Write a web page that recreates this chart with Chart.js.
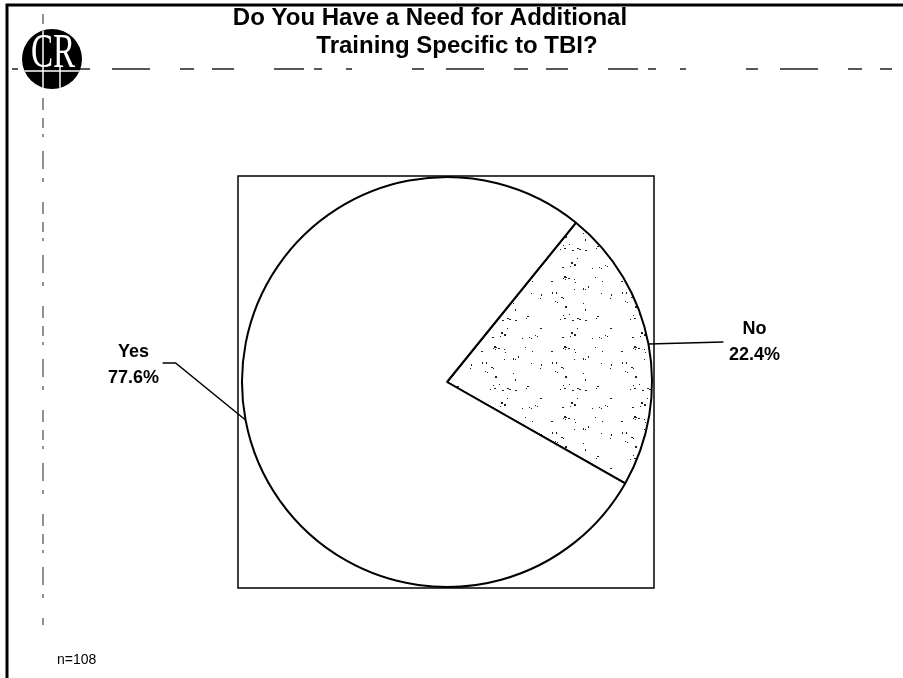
<!DOCTYPE html>
<html>
<head>
<meta charset="utf-8">
<script src="https://cdn.jsdelivr.net/npm/chart.js@4/dist/chart.umd.min.js"></script>
<style>
  html, body { margin: 0; padding: 0; background: #fff; }
  #pie { display: block; }
</style>
</head>
<body>
<canvas id="pie" width="903" height="678"></canvas>
<script>
const answers = ['No', 'Yes'];
const shares = [22.4, 77.6];
const titleLines = ['Do You Have a Need for Additional', 'Training Specific to TBI?'];
const sampleNote = 'n=108';

// leader line + label placement, relative to where the slice meets the rim
const labelLayout = {
  No: { path: [[75, -2]], textX: 106, nameY: -15, pctY: 11 },
  Yes: { path: [[-70, -57], [-83, -57]], textX: -112, nameY: -68, pctY: -42 },
};

// light speckled fill for the smaller slice
const speckle = () => {
  const c = document.createElement('canvas');
  c.width = c.height = 70;
  const g = c.getContext('2d');
  g.fillStyle = '#fff';
  g.fillRect(0, 0, 70, 70);
  g.fillStyle = '#222';
  let s = 11;
  for (let i = 0; i < 40; i++) {
    s = (s * 73 + 41) % 997;
    const x = s % 70;
    s = (s * 73 + 41) % 997;
    const y = s % 70;
    g.fillRect(x, y, i % 3 === 0 ? 2 : 1, i % 4 === 0 ? 2 : 1);
    if (i % 5 === 0) g.fillRect(x + 2, y + 1, 1, 1);
  }
  return g.createPattern(c, 'repeat');
};

const pageDecor = {
  id: 'pageDecor',
  beforeDraw(chart) {
    const ctx = chart.ctx;
    ctx.save();
    ctx.fillStyle = '#fff';
    ctx.fillRect(0, 0, chart.width, chart.height);

    // outer frame (top and left)
    ctx.strokeStyle = '#000';
    ctx.lineWidth = 3;
    ctx.beginPath();
    ctx.moveTo(7, 678);
    ctx.lineTo(7, 5);
    ctx.lineTo(903, 5);
    ctx.stroke();

    // dashed guide lines
    ctx.lineWidth = 1.5;
    ctx.strokeStyle = '#222';
    ctx.setLineDash([6, 60, 12, 22, 38, 30, 14, 18, 22, 40, 30, 10, 8, 24]);
    ctx.beginPath();
    ctx.moveTo(12, 69);
    ctx.lineTo(892, 69);
    ctx.stroke();
    ctx.lineWidth = 1;
    ctx.setLineDash([10, 6, 3, 14, 18, 9, 4, 20, 12, 8]);
    ctx.beginPath();
    ctx.moveTo(43, 14);
    ctx.lineTo(43, 625);
    ctx.stroke();
    ctx.setLineDash([]);

    // logo
    ctx.fillStyle = '#000';
    ctx.beginPath();
    ctx.arc(52, 59, 30, 0, Math.PI * 2);
    ctx.fill();
    ctx.save();
    ctx.beginPath();
    ctx.arc(52, 59, 30, 0, Math.PI * 2);
    ctx.clip();
    ctx.fillStyle = '#fff';
    ctx.translate(53, 67);
    ctx.scale(0.72, 1.05);
    ctx.font = '46px "Liberation Serif", serif';
    ctx.textAlign = 'center';
    ctx.textBaseline = 'alphabetic';
    ctx.fillText('CR', 0, 0);
    ctx.restore();
    ctx.save();
    ctx.beginPath();
    ctx.arc(52, 59, 30, 0, Math.PI * 2);
    ctx.clip();
    ctx.strokeStyle = '#fff';
    ctx.lineWidth = 1.5;
    ctx.beginPath();
    ctx.moveTo(20, 71); ctx.lineTo(84, 71);
    ctx.moveTo(43, 26); ctx.lineTo(43, 92);
    ctx.moveTo(60, 66); ctx.lineTo(60, 92);
    ctx.stroke();
    ctx.restore();

    // title
    ctx.fillStyle = '#000';
    ctx.font = 'bold 24px "Liberation Sans", Arial, sans-serif';
    ctx.textAlign = 'center';
    ctx.textBaseline = 'alphabetic';
    ctx.fillText(titleLines[0], 430, 25);
    ctx.fillText(titleLines[1], 457, 53);

    // sample size
    ctx.font = '14px "Liberation Sans", Arial, sans-serif';
    ctx.textAlign = 'left';
    ctx.fillText(sampleNote, 57, 664);

    // square frame round the pie
    const arc = chart.getDatasetMeta(0).data[0];
    const r = arc.outerRadius;
    ctx.lineWidth = 1.5;
    ctx.strokeStyle = '#000';
    ctx.strokeRect(arc.x - r - 4, arc.y - r - 1, 2 * r + 6, 2 * r + 2);
    ctx.restore();
  },
  afterDraw(chart) {
    const ctx = chart.ctx;
    const meta = chart.getDatasetMeta(0);
    ctx.save();
    ctx.strokeStyle = '#000';
    ctx.lineWidth = 1.5;
    ctx.fillStyle = '#000';
    ctx.font = 'bold 18px "Liberation Sans", Arial, sans-serif';
    ctx.textAlign = 'center';
    ctx.textBaseline = 'middle';
    meta.data.forEach((arc, i) => {
      const name = answers[i];
      const lay = labelLayout[name];
      const mid = (arc.startAngle + arc.endAngle) / 2;
      const ex = arc.x + Math.cos(mid) * arc.outerRadius;
      const ey = arc.y + Math.sin(mid) * arc.outerRadius;
      ctx.beginPath();
      ctx.moveTo(ex, ey);
      lay.path.forEach(([dx, dy]) => ctx.lineTo(ex + dx, ey + dy));
      ctx.stroke();
      ctx.fillText(name, ex + lay.textX, ey + lay.nameY);
      ctx.fillText(`${shares[i].toFixed(1)}%`, ex + lay.textX, ey + lay.pctY);
    });
    ctx.restore();
  },
};

const ctx = document.getElementById('pie');

new Chart(ctx, {
  type: 'pie',
  data: {
    labels: answers,
    datasets: [
      {
        data: shares,
        backgroundColor: [speckle(), '#fff'],
        borderColor: '#000',
        borderWidth: 2,
        borderAlign: 'center',
      },
    ],
  },
  options: {
    responsive: false,
    animation: false,
    rotation: 39,
    layout: {
      padding: { left: 241, right: 250, top: 176, bottom: 90 },
    },
    plugins: {
      legend: { display: false },
      tooltip: { enabled: false },
      title: { display: false },
    },
  },
  plugins: [pageDecor],
});
</script>
</body>
</html>
